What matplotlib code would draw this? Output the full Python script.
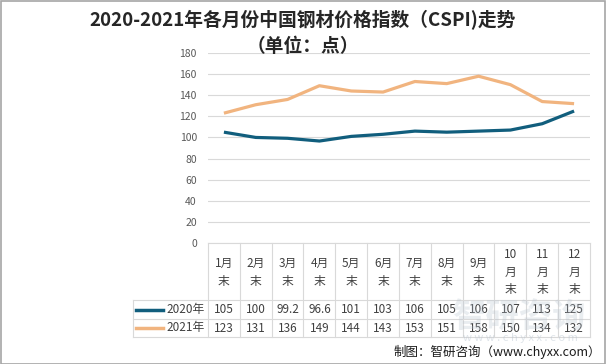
import matplotlib.pyplot as plt
from matplotlib.lines import Line2D
from matplotlib.patches import Rectangle

plt.rcParams['font.family'] = ['Noto Sans CJK SC', 'DejaVu Sans']

months = ["1月\n末", "2月\n末", "3月\n末", "4月\n末", "5月\n末", "6月\n末",
          "7月\n末", "8月\n末", "9月\n末", "10\n月\n末", "11\n月\n末", "12\n月\n末"]
cspi_2020 = [105, 100, 99.2, 96.6, 101, 103, 106, 105, 106, 107, 113, 125]
cspi_2021 = [123, 131, 136, 149, 144, 143, 153, 151, 158, 150, 134, 132]
labels_2020 = ["105", "100", "99.2", "96.6", "101", "103", "106", "105", "106", "107", "113", "125"]
labels_2021 = ["123", "131", "136", "149", "144", "143", "153", "151", "158", "150", "134", "132"]
series = [("2020年", cspi_2020, labels_2020, "#115E7D"),
          ("2021年", cspi_2021, labels_2021, "#F1B47F")]

W, H = 606, 364
fig = plt.figure(figsize=(W / 100, H / 100), dpi=100)

# pixel helpers
def fx(px):
    return px / W

def fy(py):
    return 1 - py / H

left, right = 208, 590
top, zero = 53, 243
grid_c = "#D9D9D9"

ax = fig.add_axes([fx(left), fy(zero), fx(right - left), (zero - top) / H])
xs = list(range(len(months)))
for name, vals, _, color in series:
    ax.plot(xs, vals, color=color, lw=2.3, solid_capstyle="butt")
ax.set_xlim(-0.5, len(months) - 0.5)
ax.set_ylim(0, 180)
ax.set_yticks(range(0, 181, 20))
ax.tick_params(axis="y", length=0, labelsize=7.5, labelcolor="#595959", pad=8)
ax.set_xticks([])
ax.grid(axis="y", color=grid_c, lw=0.8)
ax.set_axisbelow(True)
for s in ax.spines.values():
    s.set_visible(False)

# table below the plot
bottom = 337
rows = [243, 300, 319, 337]
tab = fig.add_axes([fx(left), fy(bottom), fx(right - left), (bottom - zero) / H])
tab.set_xlim(-0.5, len(months) - 0.5)
tab.set_ylim(bottom, zero)
tab.axis("off")
colw = (right - left) / len(months)
leg_left = -0.5 - (left - 133) / colw

kw = dict(color=grid_c, lw=0.8, clip_on=False)
tab.plot([-0.5, 11.5], [rows[0]] * 2, **kw)
for r in rows[1:]:
    tab.plot([leg_left, 11.5], [r] * 2, **kw)
for i in range(len(months) + 1):
    tab.plot([i - 0.5] * 2, [rows[0], rows[-1]], **kw)
tab.plot([leg_left] * 2, [rows[1], rows[-1]], **kw)

for i, m in enumerate(months):
    tab.text(i, (rows[0] + rows[1]) / 2 + 1, m, ha="center", va="center",
             fontsize=8.5, color="#404040", linespacing=1.45)

for k, (name, vals, labs, color) in enumerate(series):
    yc = (rows[k + 1] + rows[k + 2]) / 2
    for i, lab in enumerate(labs):
        tab.text(i, yc, lab, ha="center", va="center", fontsize=8.5, color="#404040")
    fig.add_artist(Line2D([fx(136), fx(163)], [fy(yc)] * 2, color=color, lw=2.5))
    fig.text(fx(205), fy(yc), name, ha="right", va="center", fontsize=8.5, color="#404040")

# faint watermark
fig.text(fx(520), fy(318), "智研咨询", ha="center", va="center", fontsize=24,
         color="#B8C4D0", alpha=0.3, fontweight="bold")
fig.text(fx(520), fy(338), "w w w . c h y x x . c o m", ha="center", va="center",
         fontsize=8, color="#B8C4D0", alpha=0.45)

fig.text(0.5, fy(20), "2020-2021年各月份中国钢材价格指数（CSPI)走势", ha="center",
         va="center", fontsize=13.5, fontweight="bold", color="#262626")
fig.text(0.5, fy(47), "（单位：点）", ha="center", va="center", fontsize=13.5,
         fontweight="bold", color="#262626")
fig.text(fx(601), fy(352), "制图：智研咨询（www.chyxx.com）", ha="right", va="center",
         fontsize=9, color="#1A1A1A")

fig.add_artist(Rectangle((0.5 / W, 0.5 / H), 1 - 1.5 / W, 1 - 1.5 / H, fill=False,
                         edgecolor="#A6A6A6", lw=1.2, transform=fig.transFigure))

fig.savefig("out.png", dpi=100)
